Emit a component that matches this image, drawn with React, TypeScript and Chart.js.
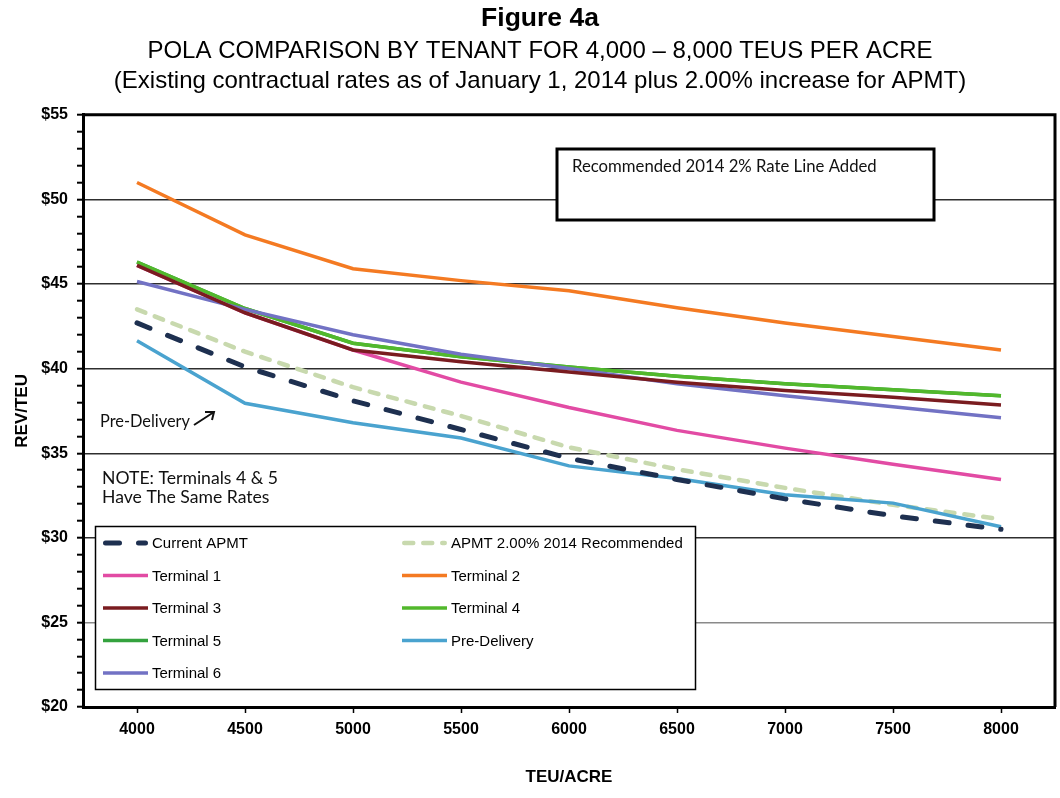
import React, { useEffect, useRef } from 'react';
import { Chart, registerables } from 'chart.js';

Chart.register(...registerables);

// ---------- data ----------
const teuPerAcre = ['4000', '4500', '5000', '5500', '6000', '6500', '7000', '7500', '8000'];
const yMajorTicks = [20, 25, 30, 35, 40, 45, 50, 55];

const currentApmt = [42.7, 40.1, 38.1, 36.4, 34.7, 33.45, 32.3, 31.3, 30.5];
const apmtRecommended = [43.5, 41.0, 38.9, 37.2, 35.35, 34.05, 32.95, 31.95, 31.1];
const terminal1 = [46.1, 43.3, 41.1, 39.2, 37.7, 36.35, 35.3, 34.35, 33.45];
const terminal2 = [51.0, 47.9, 45.9, 45.2, 44.6, 43.6, 42.7, 41.9, 41.1];
const terminal3 = [46.1, 43.3, 41.1, 40.4, 39.8, 39.2, 38.7, 38.3, 37.85];
const terminal4 = [46.3, 43.55, 41.5, 40.7, 40.1, 39.55, 39.1, 38.75, 38.4];
const terminal5 = [46.3, 43.55, 41.5, 40.7, 40.1, 39.55, 39.1, 38.75, 38.4];
const preDelivery = [41.65, 37.95, 36.8, 35.9, 34.25, 33.5, 32.55, 32.05, 30.65];
const terminal6 = [45.15, 43.5, 42.0, 40.85, 40.0, 39.1, 38.4, 37.75, 37.1];

const titleText = 'Figure 4a';
const subtitleLines = [
  'POLA COMPARISON BY TENANT FOR 4,000 \u2013 8,000 TEUS PER ACRE',
  '(Existing contractual rates as of January 1, 2014 plus 2.00% increase for APMT)',
];
const xAxisTitle = 'TEU/ACRE';
const yAxisTitle = 'REV/TEU';
const boxNote = 'Recommended 2014 2% Rate Line Added';
const preDeliveryNote = 'Pre-Delivery';
const terminalsNote = ['NOTE: Terminals 4 & 5', 'Have The Same Rates'];

const ARIAL = '"Liberation Sans", Arial, sans-serif';
const CALIBRI = 'Lato, "Open Sans", sans-serif';

// ---------- helpers ----------
function fitSize(ctx: CanvasRenderingContext2D, text: string, width: number, family: string, weight = 'normal') {
  ctx.font = `${weight} 100px ${family}`;
  const w = ctx.measureText(text).width;
  return (100 * width) / w;
}

const overlayPlugin = {
  id: 'overlay',
  afterDraw(chart: any) {
    const { ctx, chartArea } = chart;
    ctx.save();

    // top / right frame
    ctx.strokeStyle = '#000';
    ctx.lineWidth = 3;
    ctx.beginPath();
    ctx.moveTo(chartArea.left, chartArea.top);
    ctx.lineTo(chartArea.right, chartArea.top);
    ctx.lineTo(chartArea.right, chartArea.bottom);
    ctx.stroke();

    // note box
    ctx.fillStyle = '#fff';
    ctx.fillRect(557, 149, 377, 71);
    ctx.lineWidth = 3;
    ctx.strokeRect(557, 149, 377, 71);
    ctx.fillStyle = '#111';
    ctx.textBaseline = 'middle';
    ctx.textAlign = 'left';
    let s = fitSize(ctx, boxNote, 305, CALIBRI);
    ctx.font = `normal ${s}px ${CALIBRI}`;
    ctx.fillText(boxNote, 572, 167);

    // Pre-Delivery note + arrow
    s = fitSize(ctx, preDeliveryNote, 90, CALIBRI);
    ctx.font = `normal ${s}px ${CALIBRI}`;
    ctx.fillText(preDeliveryNote, 100, 422);
    ctx.lineWidth = 2;
    ctx.strokeStyle = '#111';
    ctx.beginPath();
    ctx.moveTo(194, 425);
    ctx.lineTo(214, 412);
    ctx.moveTo(205, 412);
    ctx.lineTo(214, 412);
    ctx.lineTo(212, 420);
    ctx.stroke();

    // Terminals note
    s = fitSize(ctx, terminalsNote[0], 176, CALIBRI);
    ctx.font = `normal ${s}px ${CALIBRI}`;
    ctx.fillText(terminalsNote[0], 102, 478);
    ctx.fillText(terminalsNote[1], 102, 497);

    // legend
    const lx = 95.5, ly = 526.5, lw = 600, lh = 163;
    ctx.fillStyle = '#fff';
    ctx.fillRect(lx, ly, lw, lh);
    ctx.strokeStyle = '#000';
    ctx.lineWidth = 1.5;
    ctx.strokeRect(lx, ly, lw, lh);
    ctx.font = `normal 15px ${ARIAL}`;
    chart.data.datasets.forEach((ds: any, i: number) => {
      const col = i % 2;
      const row = Math.floor(i / 2);
      const y = 543 + row * 32.5;
      const x0 = col === 0 ? 103 : 402;
      ctx.save();
      ctx.strokeStyle = ds.borderColor;
      ctx.lineWidth = ds.borderWidth;
      ctx.lineCap = ds.borderCapStyle || 'butt';
      ctx.setLineDash(ds.borderDash || []);
      const capPad = ds.borderCapStyle === 'round' ? ds.borderWidth / 2 : 0;
      ctx.beginPath();
      ctx.moveTo(x0 + capPad, y);
      ctx.lineTo(x0 + 45 - capPad, y);
      ctx.stroke();
      ctx.restore();
      ctx.fillStyle = '#000';
      ctx.fillText(ds.label, x0 + 49, y + 1);
    });

    ctx.restore();
  },
};

export default function App() {
  const ref = useRef<HTMLCanvasElement>(null);

  useEffect(() => {
    document.body.style.margin = '0';
    const canvas = ref.current!;
    const series = [
      { label: 'Current APMT', data: currentApmt, borderColor: '#1E3050', borderWidth: 5, borderDash: [14, 19], borderCapStyle: 'round', order: 0 },
      { label: 'APMT 2.00% 2014 Recommended', data: apmtRecommended, borderColor: '#C8D9AE', borderWidth: 4.5, borderDash: [9, 10], borderCapStyle: 'round', order: 2 },
      { label: 'Terminal 1', data: terminal1, borderColor: '#E24BA4', borderWidth: 3.5, order: 8 },
      { label: 'Terminal 2', data: terminal2, borderColor: '#F47A22', borderWidth: 3.5, order: 3 },
      { label: 'Terminal 3', data: terminal3, borderColor: '#7A1C20', borderWidth: 3.5, order: 4 },
      { label: 'Terminal 4', data: terminal4, borderColor: '#52B82C', borderWidth: 3.5, order: 6 },
      { label: 'Terminal 5', data: terminal5, borderColor: '#34A23E', borderWidth: 3.5, order: 7 },
      { label: 'Pre-Delivery', data: preDelivery, borderColor: '#4AA3CF', borderWidth: 3.5, order: 1 },
      { label: 'Terminal 6', data: terminal6, borderColor: '#7272C4', borderWidth: 3.5, order: 5 },
    ];

    const chart = new Chart(canvas, {
      type: 'line',
      data: {
        labels: teuPerAcre,
        datasets: series.map((s) => ({
          ...s,
          fill: false,
          tension: 0,
          pointRadius: 0,
          pointHoverRadius: 0,
        })) as any,
      },
      options: {
        responsive: false,
        animation: false,
        events: [],
        layout: { padding: { left: 25, right: 25, top: 0, bottom: 0 } },
        plugins: {
          legend: { display: false },
          tooltip: { enabled: false },
          title: {
            display: true,
            text: titleText,
            color: '#000',
            font: { family: ARIAL, size: 26.5, weight: 'bold', lineHeight: 1.2 },
            padding: { top: 3, bottom: 0 },
          },
          subtitle: {
            display: true,
            text: subtitleLines,
            color: '#000',
            font: { family: ARIAL, size: 24, weight: 'normal', lineHeight: 1.25 },
            padding: { top: 2, bottom: 18 },
          },
        },
        scales: {
          x: {
            type: 'category',
            offset: true,
            afterFit: (scale: any) => { scale.height = 91; },
            grid: {
              display: true,
              offset: false,
              drawOnChartArea: false,
              drawTicks: true,
              tickLength: 6,
              tickColor: '#000',
              tickWidth: 1.5,
            },
            border: { display: true, color: '#000', width: 3 },
            ticks: {
              color: '#000',
              font: { family: ARIAL, size: 16, weight: 'bold' },
              padding: 7,
              maxRotation: 0,
              autoSkip: false,
            },
            title: {
              display: true,
              text: xAxisTitle,
              color: '#000',
              font: { family: ARIAL, size: 17, weight: 'bold' },
              padding: { top: 0, bottom: 10 },
            },
          },
          y: {
            type: 'linear',
            min: 20,
            max: 55,
            afterFit: (scale: any) => { scale.width = 58; },
            grid: {
              display: true,
              drawOnChartArea: true,
              drawTicks: true,
              tickLength: 6,
              tickColor: '#000',
              tickWidth: 2,
              lineWidth: 1.4,
              color: (ctx: any) => {
                const v = ctx.tick ? ctx.tick.value : NaN;
                if (v === 25) return '#8a8a8a';
                return yMajorTicks.includes(v) ? '#2e2e2e' : 'rgba(0,0,0,0)';
              },
            },
            border: { display: true, color: '#000', width: 3 },
            ticks: {
              stepSize: 1,
              autoSkip: false,
              color: '#000',
              padding: 9,
              font: { family: ARIAL, size: 16, weight: 'bold' },
              callback: (v: any) => (yMajorTicks.includes(Number(v)) ? '$' + v : ''),
            },
            title: {
              display: true,
              text: yAxisTitle,
              color: '#000',
              font: { family: ARIAL, size: 17, weight: 'bold' },
              padding: { top: -13, bottom: 0 },
            },
          },
        },
      } as any,
      plugins: [overlayPlugin],
    });

    return () => chart.destroy();
  }, []);

  return (
    <div style={{ width: 1060, height: 798, overflow: 'hidden', background: '#fff' }}>
      <canvas ref={ref} width={1080} height={798} style={{ display: 'block', width: 1080, height: 798 }} />
    </div>
  );
}
